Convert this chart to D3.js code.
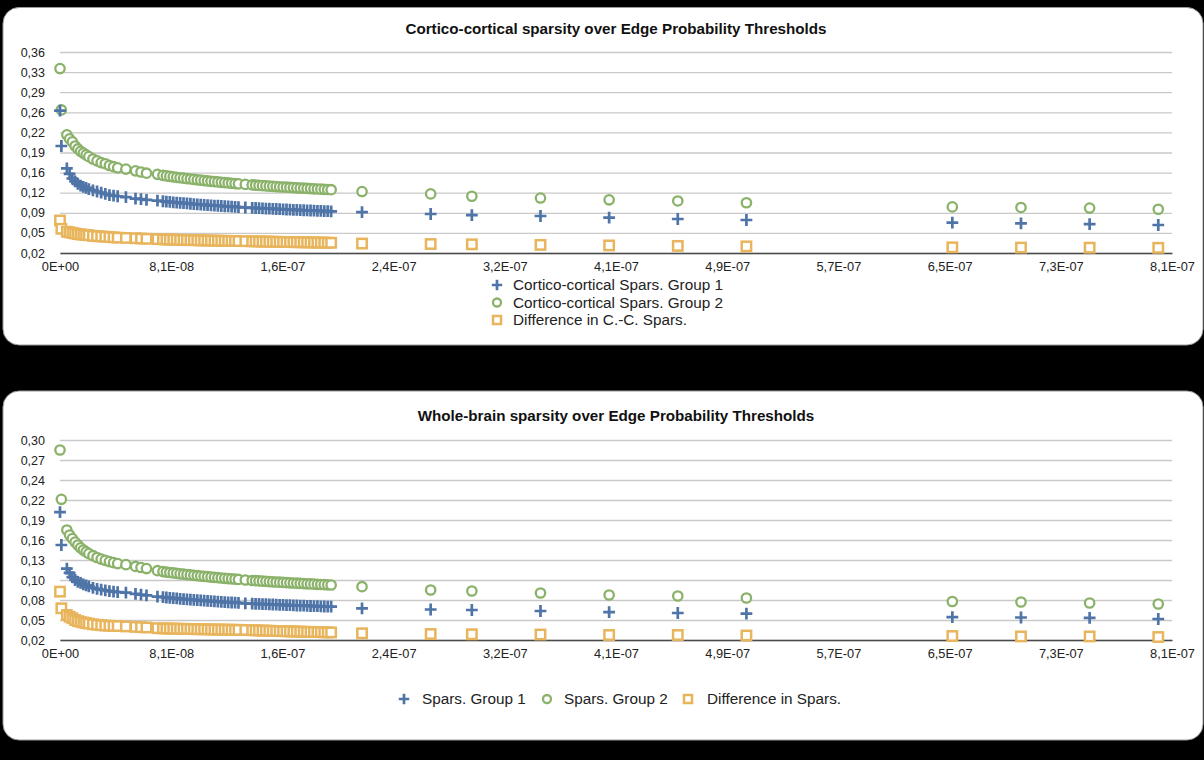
<!DOCTYPE html>
<html><head><meta charset="utf-8">
<script src="https://cdn.jsdelivr.net/npm/d3@7"></script>
<style>
body{margin:0;background:#000;}
svg{display:block;}
text{font-family:"Liberation Sans",Arial,Helvetica,sans-serif;}
</style>
</head><body>
<svg id="c" width="1204" height="760"></svg>
<script>
// Edge probability thresholds, in units of 1E-09
const thresholdsE9 = [
  0, 1,
  5, 7, 9, 11, 13, 15, 17, 19, 21, 24, 27, 30, 33, 36, 39, 42,
  48, 55, 59, 63, 71,
  75, 77.5, 80, 82.5, 85, 87.5, 90, 92.5, 95, 97.5, 100, 102.5, 105, 107.5, 110, 112.5, 115, 117.5, 120, 122.5, 125, 127.5, 130,
  135,
  140, 142.5, 145, 147.5, 150, 152.5, 155, 157.5, 160, 162.5, 165, 167.5, 170, 172.5, 175, 177.5, 180, 182.5, 185, 187.5, 190, 192.5, 195, 197.5,
  220, 270, 300, 350, 400, 450, 500, 650, 700, 750, 800
];

// Cortico-cortical sparsity
const ccGroup1 = [
  0.261, 0.201,
  0.163, 0.154, 0.146, 0.141, 0.137, 0.134, 0.132, 0.130, 0.128, 0.126, 0.124, 0.122, 0.120, 0.118, 0.117, 0.116,
  0.1145, 0.112, 0.111, 0.110, 0.1085,
  0.1075, 0.1069, 0.1064, 0.1058, 0.1053, 0.1048, 0.1043, 0.1038, 0.1033, 0.1028, 0.1024, 0.1019, 0.1015, 0.1011, 0.1007, 0.1003, 0.0999, 0.0995, 0.0991, 0.0987, 0.0984, 0.0980, 0.0977,
  0.0970,
  0.0964, 0.0961, 0.0958, 0.0955, 0.0952, 0.0949, 0.0947, 0.0944, 0.0941, 0.0938, 0.0936, 0.0933, 0.0931, 0.0928, 0.0926, 0.0923, 0.0921, 0.0919, 0.0916, 0.0914, 0.0912, 0.0910, 0.0907, 0.0905,
  0.0890, 0.0860, 0.0840, 0.0826, 0.0800, 0.0775, 0.0758, 0.0713, 0.0700, 0.0690, 0.0674
];
const ccGroup2 = [
  0.332, 0.262,
  0.220, 0.213, 0.208, 0.201, 0.196, 0.192, 0.189, 0.186, 0.183, 0.179, 0.176, 0.173, 0.171, 0.168, 0.166, 0.164,
  0.162, 0.159, 0.157, 0.155, 0.153,
  0.1513, 0.1504, 0.1496, 0.1488, 0.1480, 0.1473, 0.1466, 0.1458, 0.1452, 0.1445, 0.1438, 0.1432, 0.1425, 0.1419, 0.1413, 0.1408, 0.1402, 0.1396, 0.1391, 0.1385, 0.1380, 0.1375, 0.1370,
  0.1360,
  0.1351, 0.1347, 0.1343, 0.1339, 0.1335, 0.1331, 0.1328, 0.1324, 0.1320, 0.1316, 0.1313, 0.1309, 0.1306, 0.1302, 0.1299, 0.1296, 0.1292, 0.1289, 0.1286, 0.1283, 0.1280, 0.1277, 0.1274, 0.1271,
  0.124, 0.120, 0.116, 0.113, 0.110, 0.108, 0.105, 0.098, 0.097, 0.096, 0.094
];
const ccDiff = [
  0.075, 0.061,
  0.056, 0.055, 0.054, 0.053, 0.052, 0.0515, 0.051, 0.0505, 0.050, 0.049, 0.0485, 0.048, 0.0475, 0.047, 0.0465, 0.046,
  0.0455, 0.045, 0.0445, 0.044, 0.0435,
  0.0431, 0.0429, 0.0427, 0.0426, 0.0424, 0.0423, 0.0421, 0.0420, 0.0418, 0.0417, 0.0416, 0.0414, 0.0413, 0.0412, 0.0411, 0.0409, 0.0408, 0.0407, 0.0406, 0.0405, 0.0404, 0.0403, 0.0402,
  0.0400,
  0.0398, 0.0397, 0.0395, 0.0394, 0.0393, 0.0392, 0.0390, 0.0389, 0.0388, 0.0387, 0.0386, 0.0385, 0.0384, 0.0383, 0.0382, 0.0381, 0.0380, 0.0379, 0.0378, 0.0377, 0.0376, 0.0375, 0.0374, 0.0373,
  0.0360, 0.0352, 0.0347, 0.0337, 0.0328, 0.0320, 0.0312, 0.0296, 0.0292, 0.0290, 0.0288
];

// Whole-brain sparsity
const wbGroup1 = [
  0.199, 0.153,
  0.120, 0.114, 0.108, 0.104, 0.1015, 0.100, 0.098, 0.0965, 0.095, 0.093, 0.0915, 0.0905, 0.0895, 0.0885, 0.0877, 0.087,
  0.0862, 0.0845, 0.0835, 0.0825, 0.0808,
  0.0800, 0.0795, 0.0791, 0.0786, 0.0782, 0.0777, 0.0773, 0.0769, 0.0765, 0.0762, 0.0758, 0.0754, 0.0751, 0.0747, 0.0744, 0.0741, 0.0737, 0.0734, 0.0731, 0.0728, 0.0725, 0.0722, 0.0719,
  0.0714,
  0.0709, 0.0707, 0.0705, 0.0703, 0.0701, 0.0699, 0.0697, 0.0695, 0.0693, 0.0691, 0.0689, 0.0687, 0.0685, 0.0683, 0.0681, 0.0680, 0.0678, 0.0676, 0.0674, 0.0673, 0.0671, 0.0669, 0.0668, 0.0666,
  0.0644, 0.0627, 0.062, 0.0606, 0.059, 0.0578, 0.057, 0.052, 0.0515, 0.051, 0.0494
];
const wbGroup2 = [
  0.286, 0.217,
  0.174, 0.167, 0.162, 0.157, 0.153, 0.149, 0.146, 0.1435, 0.141, 0.138, 0.1355, 0.1333, 0.1315, 0.1298, 0.1283, 0.127,
  0.1255, 0.123, 0.1215, 0.120, 0.117,
  0.1158, 0.1151, 0.1145, 0.1139, 0.1133, 0.1127, 0.1121, 0.1116, 0.1111, 0.1105, 0.1100, 0.1095, 0.1091, 0.1086, 0.1081, 0.1077, 0.1072, 0.1068, 0.1064, 0.1060, 0.1056, 0.1052, 0.1048,
  0.1040,
  0.1033, 0.1030, 0.1027, 0.1024, 0.1021, 0.1018, 0.1015, 0.1012, 0.1009, 0.1006, 0.1003, 0.1000, 0.0998, 0.0995, 0.0992, 0.0990, 0.0987, 0.0985, 0.0982, 0.0980, 0.0977, 0.0975, 0.0972, 0.0970,
  0.0946, 0.090, 0.0886, 0.0858, 0.083, 0.0816, 0.0788, 0.0739, 0.0732, 0.0718, 0.0704
];
const wbDiff = [
  0.0877, 0.0644,
  0.055, 0.0525, 0.0505, 0.048, 0.0465, 0.0455, 0.0445, 0.0437, 0.043, 0.042, 0.0413, 0.0407, 0.0402, 0.0399, 0.0397, 0.0395,
  0.039, 0.0383, 0.038, 0.0375, 0.0365,
  0.0362, 0.0361, 0.0360, 0.0359, 0.0358, 0.0357, 0.0356, 0.0354, 0.0353, 0.0352, 0.0352, 0.0351, 0.0350, 0.0349, 0.0348, 0.0347, 0.0346, 0.0345, 0.0345, 0.0344, 0.0343, 0.0342, 0.0342,
  0.0340,
  0.0337, 0.0335, 0.0334, 0.0332, 0.0331, 0.0329, 0.0328, 0.0326, 0.0325, 0.0324, 0.0322, 0.0321, 0.0319, 0.0318, 0.0317, 0.0316, 0.0314, 0.0313, 0.0312, 0.0311, 0.0310, 0.0308, 0.0307, 0.0306,
  0.0294, 0.0284, 0.028, 0.0277, 0.027, 0.027, 0.0263, 0.0256, 0.025, 0.025, 0.0242
];

// Axis ticks
const xTickValuesE9 = [0, 81, 162, 243, 324, 405, 486, 567, 648, 729, 810];
const xTickLabels = ["0E+00", "8,1E-08", "1,6E-07", "2,4E-07", "3,2E-07", "4,1E-07", "4,9E-07", "5,7E-07", "6,5E-07", "7,3E-07", "8,1E-07"];
const ccYTicks = [0.02, 0.054, 0.088, 0.122, 0.156, 0.19, 0.224, 0.258, 0.292, 0.326, 0.36];
const ccYTickLabels = ["0,02", "0,05", "0,09", "0,12", "0,16", "0,19", "0,22", "0,26", "0,29", "0,33", "0,36"];
const wbYTicks = [0.02, 0.048, 0.076, 0.104, 0.132, 0.16, 0.188, 0.216, 0.244, 0.272, 0.30];
const wbYTickLabels = ["0,02", "0,05", "0,08", "0,10", "0,13", "0,16", "0,19", "0,22", "0,24", "0,27", "0,30"];

const ccTitle = "Cortico-cortical sparsity over Edge Probability Thresholds";
const wbTitle = "Whole-brain sparsity over Edge Probability Thresholds";
const ccLegend = ["Cortico-cortical Spars. Group 1", "Cortico-cortical Spars. Group 2", "Difference in C.-C. Spars."];
const wbLegend = ["Spars. Group 1", "Spars. Group 2", "Difference in Spars."];

const COLORS = ["#4f74a8", "#8bb26a", "#e8b55c"];

const svg = d3.select("#c");
svg.append("rect").attr("width", 1204).attr("height", 760).attr("fill", "#000");

function marker(sel, type, color, size) {
  if (type === 0) {
    sel.append("path").attr("d", `M${-size},0H${size}M0,${-size}V${size}`)
      .attr("stroke", color).attr("stroke-width", 2.7).attr("fill", "none");
  } else if (type === 1) {
    sel.append("circle").attr("r", size - 1.2).attr("fill", "#fff")
      .attr("stroke", color).attr("stroke-width", 2.3);
  } else {
    const s = size - 1.2;
    sel.append("rect").attr("x", -s).attr("y", -s).attr("width", 2 * s).attr("height", 2 * s)
      .attr("fill", "#fff").attr("stroke", color).attr("stroke-width", 2.5);
  }
}

function drawChart(o) {
  const g = svg.append("g");
  g.append("rect").attr("x", 3).attr("y", o.panelTop).attr("width", 1200).attr("height", o.panelH)
    .attr("rx", 16).attr("fill", "#fff").attr("stroke", "#9a9a9a").attr("stroke-width", 1);

  const x = d3.scaleLinear().domain([0, 810]).range([60, 1172]);
  const y = d3.scaleLinear().domain(o.yDomain).range(o.yRange);

  g.append("text").attr("x", 616).attr("y", o.titleY).attr("text-anchor", "middle")
    .attr("font-size", 15.2).attr("font-weight", "bold").attr("fill", "#111").text(o.title);

  const yAxis = d3.axisLeft(y).tickValues(o.yTicks).tickFormat((d, i) => o.yLabels[i])
    .tickSize(-(1172 - 60)).tickPadding(15);
  const ga = g.append("g").attr("transform", "translate(60,0)").call(yAxis);
  ga.select(".domain").remove();
  ga.selectAll(".tick line").attr("stroke", "#c9c9c9").attr("stroke-width", 1.3);
  ga.selectAll(".tick text").attr("font-size", 12.5).attr("fill", "#222")
    .style("font-family", '"Liberation Sans",Arial,sans-serif');

  const xAxis = d3.axisBottom(x).tickValues(xTickValuesE9).tickFormat((d, i) => xTickLabels[i])
    .tickSize(0).tickPadding(9);
  const gx = g.append("g").attr("transform", `translate(0,${o.yRange[0]})`).call(xAxis);
  gx.select(".domain").attr("stroke", "#4a4a4a").attr("stroke-width", 1.6);
  gx.selectAll(".tick text").attr("font-size", 12.8).attr("fill", "#222")
    .style("font-family", '"Liberation Sans",Arial,sans-serif');

  const order = [2, 1, 0];
  order.forEach(si => {
    const vals = o.series[si];
    const pts = g.append("g").selectAll("g").data(thresholdsE9.map((t, i) => [t, vals[i]]))
      .join("g").attr("transform", d => `translate(${x(d[0])},${y(d[1])})`);
    pts.each(function () { marker(d3.select(this), si, COLORS[si], 5.9); });
  });

  o.legend.forEach((lg, i) => {
    const m = g.append("g").attr("transform", `translate(${lg.mx},${lg.y})`);
    marker(m, i, COLORS[i], 5.2);
    g.append("text").attr("x", lg.tx).attr("y", lg.y).attr("dy", "0.35em")
      .attr("font-size", 15.3).attr("fill", "#222").text(o.legendText[i]);
  });
}

drawChart({
  panelTop: 7.5, panelH: 337.5, titleY: 34, title: ccTitle,
  yDomain: [0.02, 0.36], yRange: [253, 52], yTicks: ccYTicks, yLabels: ccYTickLabels,
  series: [ccGroup1, ccGroup2, ccDiff],
  legendText: ccLegend,
  legend: [{mx: 497, tx: 513, y: 285}, {mx: 497, tx: 513, y: 302.5}, {mx: 497, tx: 513, y: 320}]
});

drawChart({
  panelTop: 391, panelH: 349, titleY: 421, title: wbTitle,
  yDomain: [0.02, 0.30], yRange: [640, 440], yTicks: wbYTicks, yLabels: wbYTickLabels,
  series: [wbGroup1, wbGroup2, wbDiff],
  legendText: wbLegend,
  legend: [{mx: 404, tx: 422, y: 699}, {mx: 547, tx: 564, y: 699}, {mx: 688, tx: 707, y: 699}]
});
</script>
</body></html>
